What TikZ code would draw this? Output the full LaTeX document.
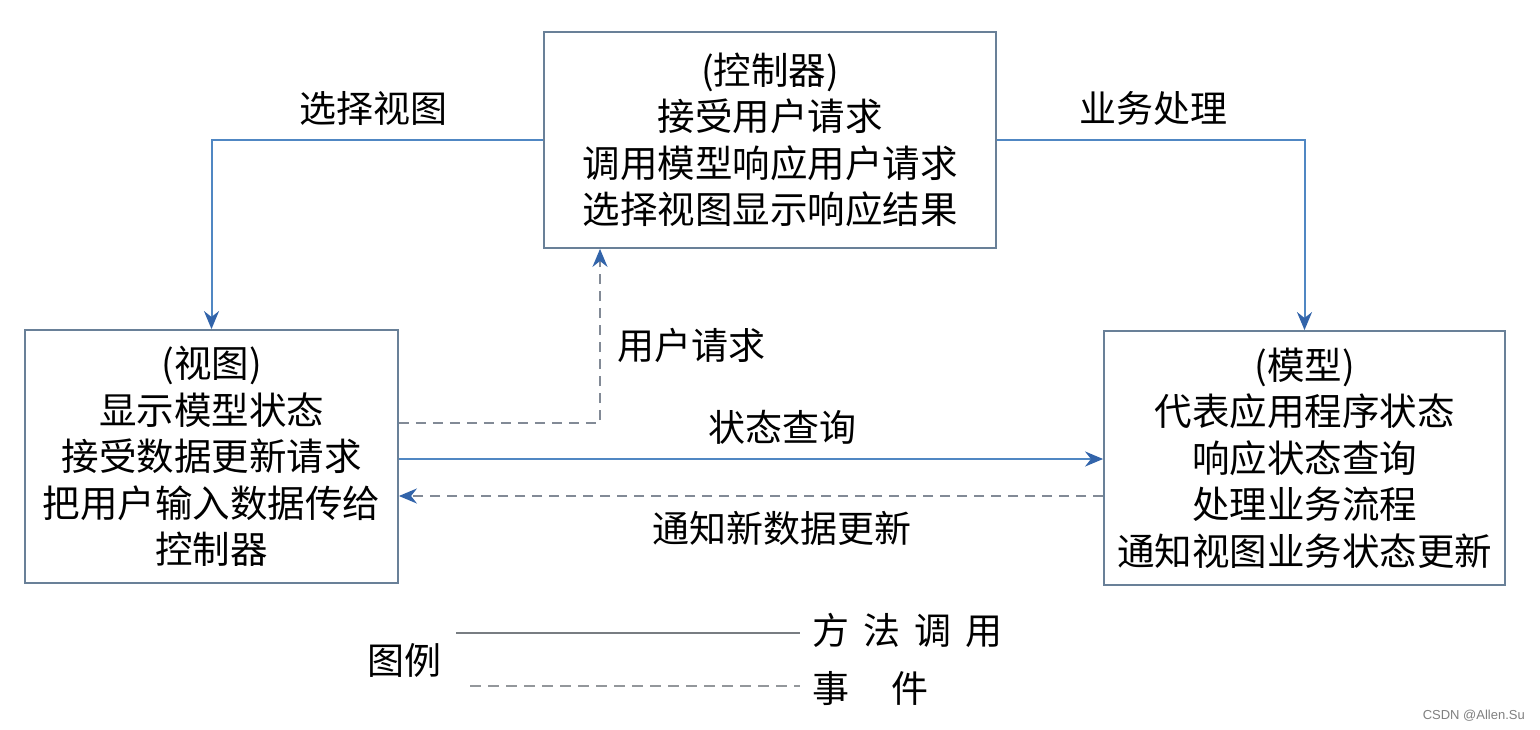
\documentclass[tikz,border=0pt]{standalone}
\usepackage{fontspec}
\setmainfont{Noto Sans CJK SC}
\newfontfamily\wmfont{Liberation Sans}
\usetikzlibrary{arrows.meta,calc}
\definecolor{boxc}{RGB}{105,128,152}
\definecolor{linec}{RGB}{80,135,195}
\definecolor{tipc}{RGB}{50,100,170}
\definecolor{dashc}{RGB}{130,138,150}
\definecolor{legc}{RGB}{120,125,130}
\tikzset{
  boxnode/.style={draw=boxc,line width=1.8pt,align=center,inner sep=0pt,
    font=\fontsize{37.5}{46.5}\selectfont},
  lbl/.style={font=\fontsize{37}{42}\selectfont,inner sep=0pt},
  call/.style={draw=linec,line width=2pt,-{Stealth[length=18pt,width=15pt,color=tipc]}},
  event/.style={draw=dashc,line width=2pt,dash pattern=on 10pt off 7pt,-{Stealth[length=18pt,width=15pt,color=tipc]}},
}
\begin{document}
\begin{tikzpicture}[x=1pt,y=-1pt]
\useasboundingbox[fill=white] (0,0) rectangle (1540,730);
\node[boxnode,minimum width=452pt,minimum height=216pt] (ctrl) at (770,140)
  {(控制器)\\接受用户请求\\调用模型响应用户请求\\选择视图显示响应结果};
\node[boxnode,minimum width=373pt,minimum height=253pt] (view) at (211.5,456.5)
  {(视图)\\显示模型状态\\接受数据更新请求\\把用户输入数据传给\\控制器};
\node[boxnode,minimum width=401pt,minimum height=254pt] (model) at (1304.5,458)
  {(模型)\\代表应用程序状态\\响应状态查询\\处理业务流程\\通知视图业务状态更新};

\draw[call] (ctrl.west) -| (view.north);
\draw[call] (ctrl.east) -| (model.north);
\draw[event] ([yshift=33.5pt]view.east) -| ([xshift=-170pt]ctrl.south);
\draw[call] ([yshift=-2.5pt]view.east) -- ([yshift=-2.5pt]view.east -| model.west);
\draw[event] ([yshift=-38pt]model.west) -- ([yshift=-38pt]model.west -| view.east);

\node[lbl] (l1) at (373,108) {选择视图};
\node[lbl] (l2) at (1153,108) {业务处理};
\node[lbl] (l3) at (691,345) {用户请求};
\node[lbl] (l4) at (782,427) {状态查询};
\node[lbl] (l5) at (782,528) {通知新数据更新};

\node[lbl] (leg) at (404,660) {图例};
\coordinate (s1) at (456,633);
\coordinate (s2) at (800,633);
\coordinate (d1) at (470,686);
\coordinate (d2) at (800,686);
\draw[legc,line width=2.2pt] (s1) -- (s2);
\draw[legc!80,line width=2.2pt,dash pattern=on 11pt off 7pt] (d1) -- (d2);
\node[lbl,anchor=west] (m1) at (812,630) {方\hspace{14pt}法\hspace{14pt}调\hspace{14pt}用};
\node[lbl,anchor=west] (m2) at (812,688) {事\hspace{42pt}件};

\node[font=\wmfont\fontsize{13}{15}\selectfont,text=gray,anchor=east,inner sep=0pt] (wm) at (1525,716) {CSDN @Allen.Su};
\end{tikzpicture}
\end{document}
